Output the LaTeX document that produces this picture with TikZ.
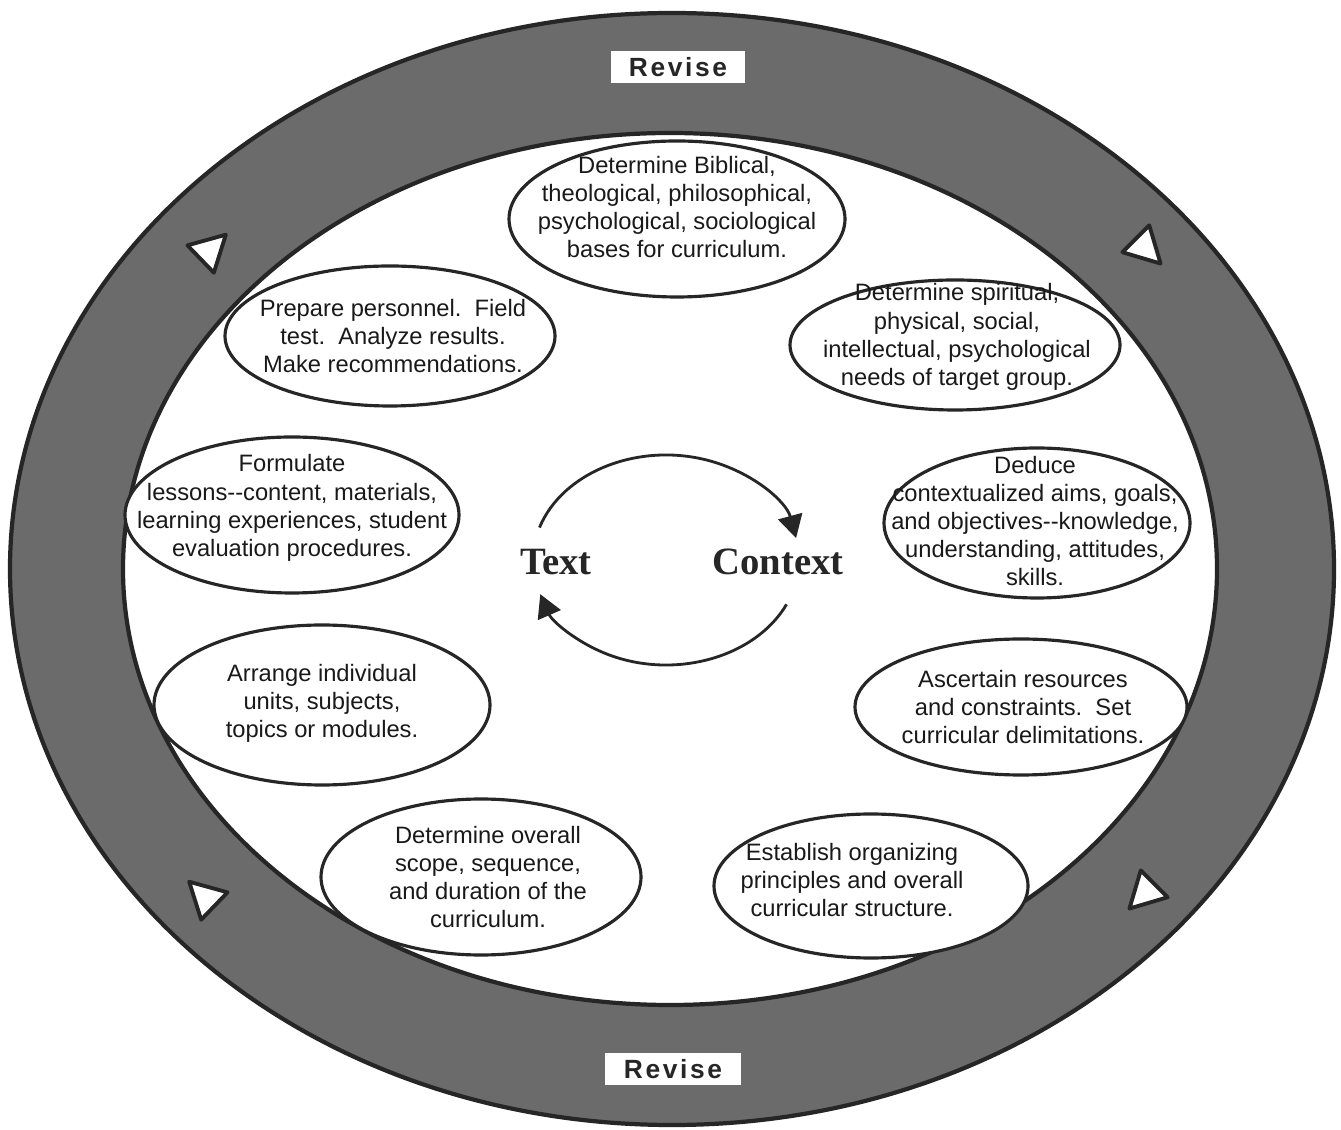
\documentclass[tikz,border=0pt]{standalone}
\usepackage{fontspec}
\setmainfont{Liberation Sans}
\newfontfamily\serifbold{Liberation Serif}
\newfontfamily\revisefont[LetterSpace=10]{Liberation Sans}
\usetikzlibrary{arrows.meta}

\tikzset{
  ring/.style={line width=2.4pt, draw=black!85},
  stepbox/.style={align=center, font=\fontsize{13.5}{16}\selectfont, text=black!90},
  stepring/.style={line width=1.8pt, draw=black!85, fill=white},
  revise/.style={fill=white, inner sep=0pt, minimum width=2.68cm, minimum height=0.63cm,
    text=black!85, font=\revisefont\bfseries\fontsize{15}{15}\selectfont},
  bigword/.style={text=black!85, font=\serifbold\bfseries\fontsize{22}{22}\selectfont},
  cyclearrow/.style={line width=1.6pt, draw=black!85, -{Triangle[width=14pt,length=13pt]}},
  ringtip/.style={line width=2.2pt, draw=black!85, fill=white, line join=round}
}

\begin{document}
\begin{tikzpicture}[x=0.02cm, y=0.02cm]
		\fill[white] (0,0) rectangle (1341,1129);
		\useasboundingbox (0,0) rectangle (1341,1129);
		%draw shaded ring
		\fill[black!58, even odd rule] (672,560) ellipse [x radius=662, y radius=556]
			(670,560) ellipse [x radius=547, y radius=436];
		\draw[ring] (672,560) ellipse [x radius=662, y radius=556];
		\draw[ring] (670,560) ellipse [x radius=547, y radius=436];
		%draw ring arrows
		\foreach \px/\py/\ang in {210/879/44, 1145/881/-45, 205/232/136, 1145/236/225}{
			\draw[ringtip, rotate around={\ang:(\px,\py)}] (\px+22,\py) -- (\px-13,\py+19) -- (\px-13,\py-19) -- cycle;
		}
		%draw revise labels
		\node[revise] (revtop) at (678,1062) {Revise};
		\node[revise, minimum width=2.74cm] (revbot) at (673,60) {Revise};
		%draw steps (ring first, then text)
		\coordinate (c1) at (677,910);
		\draw[stepring] (c1) ellipse [x radius=168, y radius=78];
		\node[stepbox] (bases) at ([yshift=0.24cm]c1) {Determine Biblical,\\theological, philosophical,\\psychological, sociological\\bases for curriculum.};
		\coordinate (c2) at (955,784);
		\draw[stepring] (c2) ellipse [x radius=165, y radius=65];
		\node[stepbox] (needs) at ([xshift=0.04cm, yshift=0.16cm]c2) {Determine spiritual,\\physical, social,\\intellectual, psychological\\needs of target group.};
		\coordinate (c3) at (1037,606);
		\draw[stepring] (c3) ellipse [x radius=153, y radius=75];
		\node[stepbox] (aims) at ([xshift=-0.04cm, yshift=0.04cm]c3) {Deduce\\contextualized aims, goals,\\and objectives-{}-knowledge,\\understanding, attitudes,\\skills.};
		\coordinate (c4) at (1021,422);
		\draw[stepring] (c4) ellipse [x radius=166, y radius=68];
		\node[stepbox] (resources) at ([xshift=0.04cm]c4) {Ascertain resources\\and constraints.\ \ Set\\curricular delimitations.};
		\coordinate (c5) at (871,243);
		\draw[stepring] (c5) ellipse [x radius=157, y radius=72];
		\node[stepbox] (structure) at ([xshift=-0.38cm, yshift=0.12cm]c5) {Establish organizing\\principles and overall\\curricular structure.};
		\coordinate (c6) at (481,252);
		\draw[stepring] (c6) ellipse [x radius=160, y radius=78];
		\node[stepbox] (scope) at ([xshift=0.14cm]c6) {Determine overall\\scope, sequence,\\and duration of the\\curriculum.};
		\coordinate (c7) at (322,424);
		\draw[stepring] (c7) ellipse [x radius=168, y radius=80];
		\node[stepbox] (units) at ([yshift=0.04cm]c7) {Arrange individual\\units, subjects,\\topics or modules.};
		\coordinate (c8) at (292,614);
		\draw[stepring] (c8) ellipse [x radius=167, y radius=78];
		\node[stepbox] (lessons) at ([yshift=0.14cm]c8) {Formulate\\lessons-{}-content, materials,\\learning experiences, student\\evaluation procedures.};
		\coordinate (c9) at (390,793);
		\draw[stepring] (c9) ellipse [x radius=165, y radius=70];
		\node[stepbox] (personnel) at ([xshift=0.06cm]c9) {Prepare personnel.\ \ Field\\test.\ \ Analyze results.\\Make recommendations.};
		%draw centre cycle
		\node[bigword] (text) at (556,567) {Text};
		\node[bigword] (context) at (778,567) {Context};
		\coordinate (hub) at (666,569);
		\draw[cyclearrow] (hub) ++(162:133 and 105) arc[start angle=162, end angle=12, x radius=133, y radius=105];
		\draw[cyclearrow] (hub) ++(-25:133 and 105) arc[start angle=-25, end angle=-161, x radius=133, y radius=105];
\end{tikzpicture}
\end{document}
